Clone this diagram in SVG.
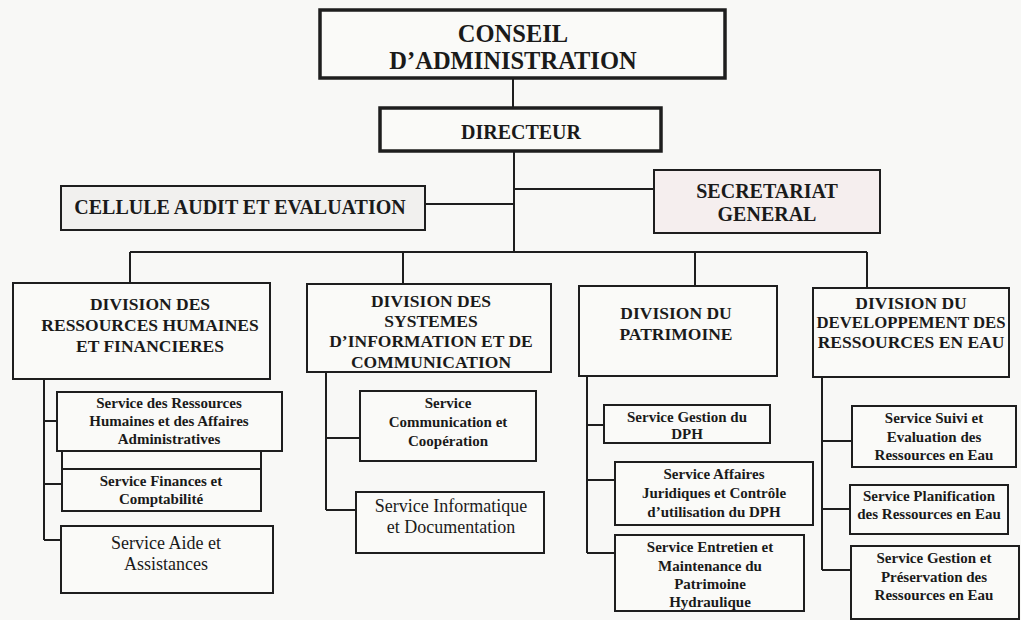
<svg xmlns="http://www.w3.org/2000/svg" width="1021" height="620" viewBox="0 0 1021 620">
<style>
.bg{fill:#f8f8f6}
.box{fill:#fafaf8;stroke:#1e1e1e;stroke-width:2}
.thick{fill:#fafaf8;stroke:#1e1e1e;stroke-width:3.5}
.ln{fill:none;stroke:#1e1e1e;stroke-width:2}
text{font-family:"Liberation Serif","Times New Roman",serif;fill:#1a1a1a;text-anchor:middle;dominant-baseline:central}
.top{font-size:24.5px;font-weight:bold}
.mid{font-size:20px;font-weight:bold}
.div{font-size:17.5px;font-weight:bold}
.sb{font-size:15px;font-weight:bold}
.sr{font-size:18px}
</style>
<rect class="bg" x="0" y="0" width="1021" height="620"/>
<g id="connectors">
<path class="ln" d="M513 79V108"/>
<path class="ln" d="M514 152V252"/>
<path class="ln" d="M425 204H514"/>
<path class="ln" d="M514 189H654"/>
<path class="ln" d="M130 252H867"/>
<path class="ln" d="M130 252V283M403 252V284M695 252V286M867 252V288"/>
<path class="ln" d="M44 379V540M44 421H57M44 484H62M44 540H61"/>
<path class="ln" d="M326 372V510M326 438H360M326 510H356"/>
<path class="ln" d="M587 376V553M587 425H604M587 480H615M587 553H615"/>
<path class="ln" d="M822 377V570M822 441H852M822 509H850M822 570H851"/>
</g>
<g id="conseil">
<rect class="thick" x="320" y="10" width="405" height="68"/>
<text class="top" x="513" y="33">CONSEIL</text>
<text class="top" x="513" y="60">D’ADMINISTRATION</text>
</g>
<g id="directeur">
<rect class="thick" x="380" y="108" width="281" height="43"/>
<text class="mid" x="521" y="132">DIRECTEUR</text>
</g>
<g id="cellule">
<rect class="box" x="61" y="186" width="364" height="44" style="fill:#f1f0ee"/>
<text class="mid" x="240" y="207">CELLULE AUDIT ET EVALUATION</text>
</g>
<g id="secretariat">
<rect class="box" x="654" y="170" width="226" height="63" style="fill:#f5eeee"/>
<text class="mid" x="767" y="191">SECRETARIAT</text>
<text class="mid" x="767" y="214">GENERAL</text>
</g>
<g id="div-rh">
<rect class="box" x="13" y="283" width="257" height="96"/>
<text class="div" x="150" y="304">DIVISION DES</text>
<text class="div" x="150" y="325">RESSOURCES HUMAINES</text>
<text class="div" x="150" y="346">ET FINANCIERES</text>
</g>
<g id="div-si">
<rect class="box" x="307" y="284" width="244" height="88"/>
<text class="div" x="431" y="301">DIVISION DES</text>
<text class="div" x="431" y="321">SYSTEMES</text>
<text class="div" x="431" y="341">D’INFORMATION ET DE</text>
<text class="div" x="431" y="362">COMMUNICATION</text>
</g>
<g id="div-patrimoine">
<rect class="box" x="579" y="286" width="198" height="90"/>
<text class="div" x="676" y="313">DIVISION DU</text>
<text class="div" x="676" y="334">PATRIMOINE</text>
</g>
<g id="div-eau">
<rect class="box" x="813" y="288" width="196" height="89"/>
<text class="div" x="911" y="303">DIVISION DU</text>
<text class="div" x="911" y="322" textLength="189" lengthAdjust="spacingAndGlyphs">DEVELOPPEMENT DES</text>
<text class="div" x="911" y="342">RESSOURCES EN EAU</text>
</g>
<g id="srv-finances">
<rect class="box" x="62" y="445" width="199" height="66"/>
<path class="ln" d="M62 469H261"/>
<text class="sb" x="161" y="481">Service Finances et</text>
<text class="sb" x="161" y="499">Comptabilité</text>
</g>
<g id="srv-rh">
<rect class="box" x="57" y="392" width="225" height="59"/>
<text class="sb" x="169" y="403">Service des Ressources</text>
<text class="sb" x="169" y="421">Humaines et des Affaires</text>
<text class="sb" x="169" y="439">Administratives</text>
</g>
<g id="srv-aide">
<rect class="box" x="61" y="526" width="212" height="67"/>
<text class="sr" x="166" y="543">Service Aide et</text>
<text class="sr" x="166" y="564">Assistances</text>
</g>
<g id="srv-communication">
<rect class="box" x="360" y="391" width="176" height="70"/>
<text class="sb" x="448" y="403">Service</text>
<text class="sb" x="448" y="422">Communication et</text>
<text class="sb" x="448" y="441">Coopération</text>
</g>
<g id="srv-informatique">
<rect class="box" x="356" y="492" width="188" height="61"/>
<text class="sr" x="451" y="506">Service Informatique</text>
<text class="sr" x="451" y="527">et Documentation</text>
</g>
<g id="srv-dph">
<rect class="box" x="604" y="405" width="166" height="38"/>
<text class="sb" x="687" y="417">Service Gestion du</text>
<text class="sb" x="687" y="434">DPH</text>
</g>
<g id="srv-juridique">
<rect class="box" x="615" y="462" width="198" height="63"/>
<text class="sb" x="714" y="474">Service Affaires</text>
<text class="sb" x="714" y="493">Juridiques et Contrôle</text>
<text class="sb" x="714" y="512">d’utilisation du DPH</text>
</g>
<g id="srv-entretien">
<rect class="box" x="615" y="535" width="189" height="76"/>
<text class="sb" x="710" y="547">Service Entretien et</text>
<text class="sb" x="710" y="566">Maintenance du</text>
<text class="sb" x="710" y="584">Patrimoine</text>
<text class="sb" x="710" y="602">Hydraulique</text>
</g>
<g id="srv-suivi">
<rect class="box" x="852" y="406" width="164" height="61"/>
<text class="sb" x="934" y="418">Service Suivi et</text>
<text class="sb" x="934" y="437">Evaluation des</text>
<text class="sb" x="934" y="455">Ressources en Eau</text>
</g>
<g id="srv-planification">
<rect class="box" x="850" y="485" width="158" height="49"/>
<text class="sb" x="929" y="496">Service Planification</text>
<text class="sb" x="929" y="514">des Ressources en Eau</text>
</g>
<g id="srv-preservation">
<rect class="box" x="851" y="546" width="168" height="73"/>
<text class="sb" x="934" y="558">Service Gestion et</text>
<text class="sb" x="934" y="577">Préservation des</text>
<text class="sb" x="934" y="595">Ressources en Eau</text>
</g>
</svg>
